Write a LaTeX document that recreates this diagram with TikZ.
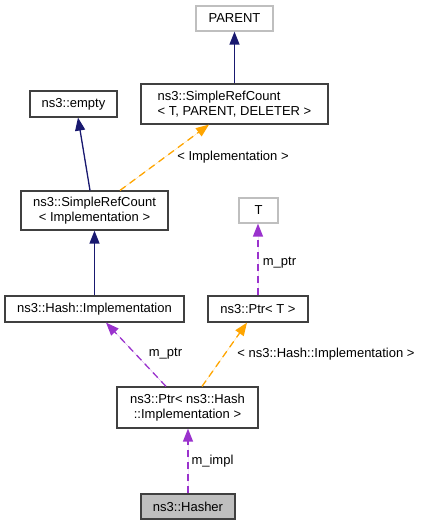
\documentclass[tikz,border=0pt]{standalone}
\usepackage{fontspec}
\setmainfont{Liberation Sans}
\usetikzlibrary{arrows.meta}
\definecolor{edgeblue}{HTML}{191970}
\definecolor{edgeorange}{HTML}{FFA500}
\definecolor{edgepurple}{HTML}{9A32CD}
\definecolor{boxborder}{HTML}{404040}
\definecolor{lightborder}{HTML}{BFBFBF}
\definecolor{hasherfill}{HTML}{BFBFBF}
\tikzset{
  x=1pt, y=-1pt,
  cls/.style={draw=boxborder, line width=1.2pt, fill=white, inner sep=0pt, align=center,
    font=\fontsize{13}{14.3}\selectfont},
  ext/.style={cls, draw=lightborder},
  tip/.style={-{Triangle[length=13pt,width=10pt]}},
  inherit/.style={tip, draw=edgeblue, fill=edgeblue, line width=1.3pt},
  templ/.style={tip, draw=edgeorange, fill=edgeorange, line width=1.3pt, dash pattern=on 7pt off 5pt},
  usage/.style={tip, draw=edgepurple, fill=edgepurple, line width=1.3pt, dash pattern=on 7pt off 5pt},
  lbl/.style={font=\fontsize{13}{14.3}\selectfont, inner sep=0pt},
}
\begin{document}
\begin{tikzpicture}
\useasboundingbox (0,0) rectangle (423,525);
\node[ext, minimum width=77pt, minimum height=25pt] (parent) at (234.5,18.5) {PARENT};
\node[cls, minimum width=187pt, minimum height=40pt, align=left] (srctpd) at (234.5,104) {ns3::SimpleRefCount\\< T, PARENT, DELETER >};
\node[cls, minimum width=87pt, minimum height=26pt] (empty) at (73.5,104) {ns3::empty};
\node[cls, minimum width=147pt, minimum height=39pt] (srcimpl) at (94.5,210.5) {ns3::SimpleRefCount\\< Implementation >};
\node[ext, minimum width=39pt, minimum height=25pt] (t) at (258.5,210.5) {T};
\node[cls, minimum width=179pt, minimum height=26pt] (hashimpl) at (94.5,309) {ns3::Hash::Implementation};
\node[cls, minimum width=100pt, minimum height=26pt] (ptrt) at (258,309) {ns3::Ptr< T >};
\node[cls, minimum width=141pt, minimum height=41pt] (ptrhi) at (187.5,407.5) {ns3::Ptr< ns3::Hash\\::Implementation >};
\node[cls, fill=hasherfill, minimum width=94pt, minimum height=25pt] (hasher) at (188,506.5) {ns3::Hasher};

\draw[inherit] (srctpd.north) -- (parent.south);
\draw[inherit] ([xshift=-4.5pt]srcimpl.north) -- ([xshift=4.5pt]empty.south);
\draw[templ] ([xshift=25.5pt]srcimpl.north) -- ([xshift=-25.5pt]srctpd.south);
\draw[inherit] (hashimpl.north) -- (srcimpl.south);
\draw[usage] (ptrt.north) -- (ptrt.north |- t.south);
\draw[usage] ([xshift=-21.5pt]ptrhi.north) -- ([xshift=11.5pt]hashimpl.south);
\draw[templ] ([xshift=14.5pt]ptrhi.north) -- ([xshift=-11pt]ptrt.south);
\draw[usage] (hasher.north) -- (hasher.north |- ptrhi.south);

\node[lbl] (l1) at (233,157) {< Implementation >};
\node[lbl] (l2) at (279.5,263) {m\_ptr};
\node[lbl] (l3) at (165.5,354) {m\_ptr};
\node[lbl] (l4) at (326,354) {< ns3::Hash::Implementation >};
\node[lbl] (l5) at (212.5,461) {m\_impl};
\end{tikzpicture}
\end{document}
